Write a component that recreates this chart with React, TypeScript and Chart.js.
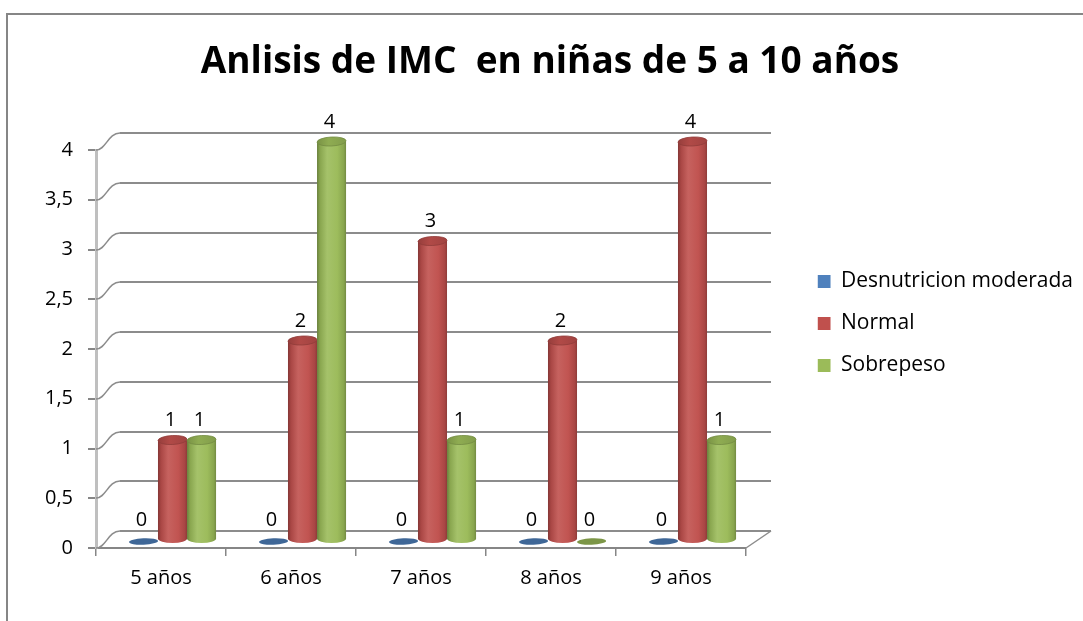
import React, { useEffect, useRef } from 'react';
import { Chart, registerables } from 'chart.js';

Chart.register(...registerables);

const categories = ['5 años', '6 años', '7 años', '8 años', '9 años'];
const desnutricion = [0, 0, 0, 0, 0];
const normal = [1, 2, 3, 2, 4];
const sobrepeso = [1, 4, 1, 0, 1];
const seriesNames = ['Desnutricion moderada', 'Normal', 'Sobrepeso'];
const seriesColors = ['#4F81BD', '#C0504D', '#9BBB59'];
const yTickLabels = ['0', '0,5', '1', '1,5', '2', '2,5', '3', '3,5', '4'];
const titleText = 'Anlisis de IMC  en niñas de 5 a 10 años';

const DEPTH_X = 24;
const DEPTH_Y = 17;
const BAR_DX = 11.5;
const BAR_DY = -8.5;
const PLOT_LEFT = 96;
const PLOT_RIGHT = 746;
const PAD_LEFT = 17;
const PAD_RIGHT = 0;
const FONT = 'Open Sans';

function shade(hex: string, f: number): string {
  const n = parseInt(hex.slice(1), 16);
  let r = (n >> 16) & 255, g = (n >> 8) & 255, b = n & 255;
  if (f <= 1) {
    r *= f; g *= f; b *= f;
  } else {
    const t = f - 1;
    r += (255 - r) * t; g += (255 - g) * t; b += (255 - b) * t;
  }
  return `rgb(${Math.round(r)},${Math.round(g)},${Math.round(b)})`;
}

function drawCylinder(ctx: CanvasRenderingContext2D, cx: number, top: number, bottom: number, w: number, color: string) {
  const rx = w / 2;
  const ry = 4.5;
  const left = cx - rx;
  const right = cx + rx;
  if (bottom - top < 1) {
    ctx.beginPath();
    ctx.ellipse(cx, bottom + 2, rx, ry * 0.7, -0.04, 0, Math.PI * 2);
    ctx.fillStyle = shade(color, 0.8);
    ctx.fill();
    return;
  }
  const g = ctx.createLinearGradient(left, 0, right, 0);
  g.addColorStop(0, shade(color, 0.68));
  g.addColorStop(0.1, shade(color, 0.88));
  g.addColorStop(0.35, shade(color, 1.1));
  g.addColorStop(0.7, shade(color, 1.02));
  g.addColorStop(0.92, shade(color, 0.88));
  g.addColorStop(1, shade(color, 0.74));
  ctx.beginPath();
  ctx.moveTo(left, top);
  ctx.lineTo(left, bottom);
  ctx.ellipse(cx, bottom, rx, ry, 0, Math.PI, 0, true);
  ctx.lineTo(right, top);
  ctx.closePath();
  ctx.fillStyle = g;
  ctx.fill();
  const tg = ctx.createLinearGradient(left, 0, right, 0);
  tg.addColorStop(0, shade(color, 0.78));
  tg.addColorStop(0.4, shade(color, 0.92));
  tg.addColorStop(1, shade(color, 0.84));
  ctx.beginPath();
  ctx.ellipse(cx, top, rx, ry, -0.05, 0, Math.PI * 2);
  ctx.fillStyle = tg;
  ctx.fill();
  ctx.strokeStyle = shade(color, 0.75);
  ctx.lineWidth = 0.8;
  ctx.stroke();
}

const framePlugin = {
  id: 'frame',
  beforeDraw(chart: any) {
    const ctx = chart.ctx;
    ctx.save();
    ctx.fillStyle = '#ffffff';
    ctx.fillRect(0, 0, chart.width, chart.height);
    ctx.strokeStyle = '#868686';
    ctx.lineWidth = 2;
    ctx.beginPath();
    ctx.moveTo(chart.width, 14);
    ctx.lineTo(7, 14);
    ctx.lineTo(7, chart.height);
    ctx.stroke();
    ctx.restore();
  },
};

const wallsPlugin = {
  id: 'walls',
  beforeDatasetsDraw(chart: any) {
    const ctx = chart.ctx;
    const y = chart.scales.y;
    const { left, right, bottom } = chart.chartArea;
    ctx.save();
    y.ticks.forEach((t: any) => {
      const py = Math.round(y.getPixelForValue(t.value));
      ctx.strokeStyle = '#8C8C8C';
      ctx.lineWidth = 1.5;
      ctx.beginPath();
      ctx.moveTo(left, py);
      ctx.bezierCurveTo(left + 10, py, left + 12, py - DEPTH_Y, left + DEPTH_X, py - DEPTH_Y);
      ctx.stroke();
      ctx.lineWidth = 2;
      ctx.beginPath();
      ctx.moveTo(left + DEPTH_X, py - DEPTH_Y);
      ctx.lineTo(right + DEPTH_X + 1, py - DEPTH_Y);
      ctx.stroke();
    });
    ctx.strokeStyle = '#8C8C8C';
    ctx.lineWidth = 1.5;
    ctx.beginPath();
    ctx.moveTo(right, bottom);
    ctx.lineTo(right + DEPTH_X + 1, bottom - DEPTH_Y);
    ctx.stroke();
    ctx.restore();
  },
  beforeDatasetDraw() {
    return false;
  },
  afterDatasetsDraw(chart: any) {
    const ctx = chart.ctx;
    const metas = chart.data.datasets.map((_: any, i: number) => chart.getDatasetMeta(i));
    ctx.save();
    categories.forEach((_, idx) => {
      metas.forEach((meta: any, di: number) => {
        const el = meta.data[idx];
        if (!el) return;
        const { x, y, base, width } = el.getProps(['x', 'y', 'base', 'width'], true);
        drawCylinder(ctx, x + BAR_DX, y + BAR_DY, base + BAR_DY, width, seriesColors[di]);
      });
    });
    ctx.fillStyle = '#000';
    ctx.font = `20px "${FONT}"`;
    ctx.textAlign = 'center';
    ctx.textBaseline = 'middle';
    metas.forEach((meta: any, di: number) => {
      meta.data.forEach((el: any, idx: number) => {
        const { x, y } = el.getProps(['x', 'y'], true);
        const v = chart.data.datasets[di].data[idx];
        ctx.fillText(String(v), x + BAR_DX - 2, y - 28);
      });
    });
    ctx.restore();
  },
};

export default function App() {
  const ref = useRef<HTMLCanvasElement>(null);
  useEffect(() => {
    if (!ref.current) return;
    const seriesData = [desnutricion, normal, sobrepeso];
    const chart = new Chart(ref.current, {
      type: 'bar',
      data: {
        labels: categories,
        datasets: seriesNames.map((name, i) => ({
          label: name,
          data: seriesData[i],
          backgroundColor: seriesColors[i],
          borderWidth: 0,
          categoryPercentage: 0.67,
          barPercentage: 1,
          xAxisID: 'x',
          yAxisID: 'y',
        })),
      },
      options: {
        animation: false,
        responsive: true,
        maintainAspectRatio: false,
        layout: { padding: { left: PAD_LEFT, right: PAD_RIGHT, top: 0, bottom: 0 } },
        plugins: {
          title: {
            display: true,
            text: titleText,
            color: '#000',
            font: { family: FONT, size: 37, weight: 'bold' },
            padding: { top: 40, bottom: 65.6 },
          },
          legend: {
            display: true,
            position: 'right',
            align: 'center',
            title: { display: true, text: ' ', font: { size: 10, lineHeight: 1.2 }, padding: { top: 35, bottom: 0 } },
            labels: {
              boxWidth: 13,
              boxHeight: 13,
              padding: 0,
              color: '#000',
              font: { family: FONT, size: 21, lineHeight: 2 },
              generateLabels: (c: any) =>
                Chart.defaults.plugins.legend.labels.generateLabels(c).map((l: any) => ({ ...l, text: [l.text] })),
            },
          },
          tooltip: { enabled: false },
        },
        scales: {
          x: {
            offset: true,
            grid: { offset: true, drawOnChartArea: false, drawTicks: true, tickLength: 8, color: '#868686', lineWidth: 1.5 },
            border: { display: true, color: '#868686', width: 2 },
            ticks: { padding: 10, color: '#000', font: { family: FONT, size: 20 } },
            afterFit: (s: any) => { s.height = 73; },
          },
          y: {
            min: 0,
            max: 4,
            ticks: {
              stepSize: 0.5,
              padding: 15,
              color: '#000',
              font: { family: FONT, size: 20 },
              callback: (_v: any, i: number) => yTickLabels[i],
            },
            grid: { drawOnChartArea: false, drawTicks: true, tickLength: 8, color: '#868686', lineWidth: 2 },
            border: { display: true, color: '#BFBFBF', width: 3 },
            afterFit: (s: any) => { s.width = PLOT_LEFT - PAD_LEFT; },
          },
          yR: {
            type: 'linear',
            position: 'right',
            display: false,
            afterFit: (s: any) => {
              const lw = s.chart.legend ? s.chart.legend.width : 0;
              s.width = Math.max(0, s.chart.width - PAD_RIGHT - lw - PLOT_RIGHT);
            },
          },
        },
      },
      plugins: [framePlugin, wallsPlugin],
    } as any);
    return () => chart.destroy();
  }, []);
  return (
    <div style={{ position: 'absolute', left: 0, top: 0, width: 1083, height: 621, background: '#fff' }}>
      <canvas ref={ref} />
    </div>
  );
}
